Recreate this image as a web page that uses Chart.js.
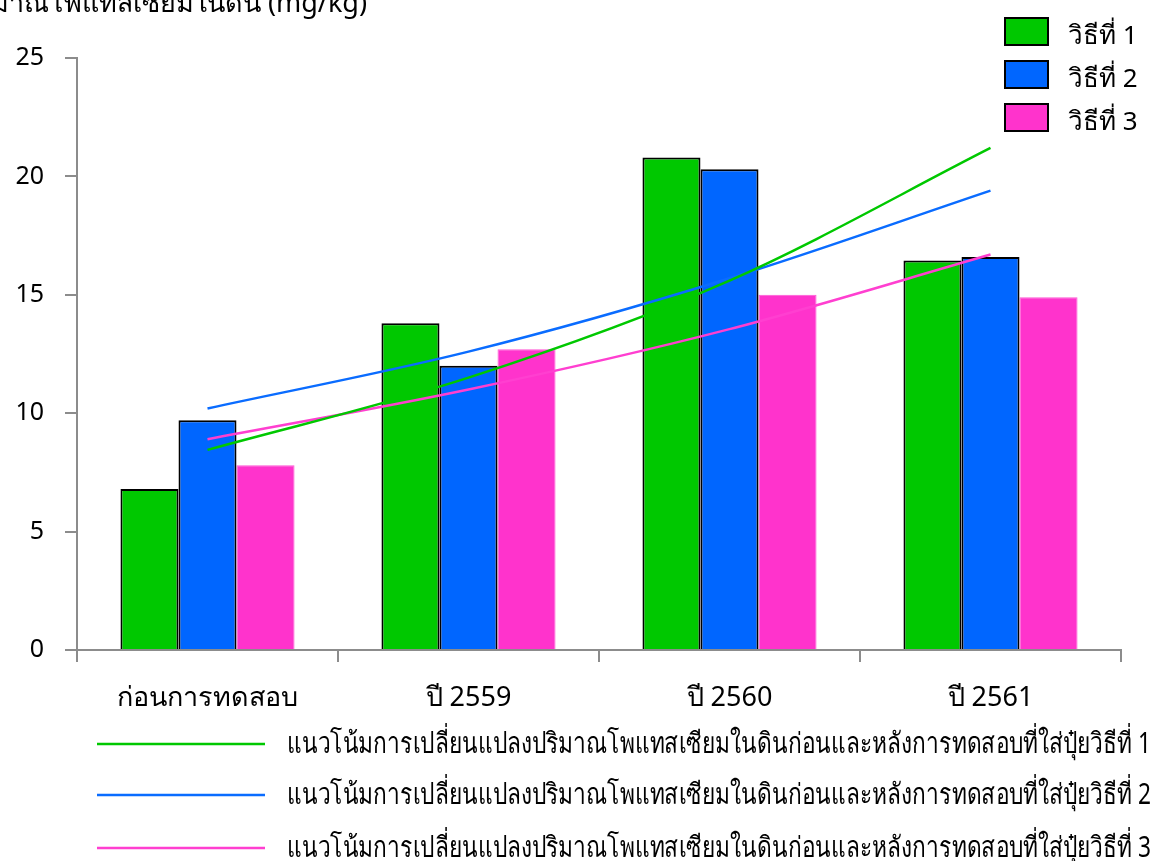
<!DOCTYPE html>
<html>
<head>
<meta charset="utf-8">
<script src="https://cdn.jsdelivr.net/npm/chart.js@4.4.1/dist/chart.umd.min.js"></script>
<style>
  html, body { margin: 0; padding: 0; background: #fff; }
  #wrap { position: relative; width: 1161px; height: 861px; }
</style>
</head>
<body>
<div id="wrap"><canvas id="potassium" width="1161" height="861"></canvas></div>
<script>
// ข้อมูลปริมาณโพแทสเซียมในดิน
const categories = ['ก่อนการทดสอบ', 'ปี 2559', 'ปี 2560', 'ปี 2561'];
const method1 = [6.8, 13.8, 20.8, 16.45];
const method2 = [9.7, 12.0, 20.3, 16.6];
const method3 = [7.8, 12.7, 15.0, 14.9];
// เส้นแนวโน้ม (ค่าที่จุดกึ่งกลางของแต่ละช่วง)
const trend1 = [8.45, 11.5, 15.6, 21.2];
const trend2 = [10.2, 12.6, 15.7, 19.4];
const trend3 = [8.9, 11.0, 13.55, 16.7];
const yTicks = [0, 5, 10, 15, 20, 25];
const methodNames = ['วิธีที่ 1', 'วิธีที่ 2', 'วิธีที่ 3'];
const trendName = 'แนวโน้มการเปลี่ยนแปลงปริมาณโพแทสเซียมในดินก่อนและหลังการทดสอบที่ใส่ปุ๋ยวิธีที่ ';
const yTitle = 'ปริมาณโพแทสเซียมในดิน (mg/kg)';

const barColors = ['#00c800', '#0066ff', '#ff33cc'];
const barBorders = ['#000000', '#000000', '#ff55d5'];
const lineColors = ['#00c800', '#0a6cff', '#ff3fd0'];
const FONT = '"Noto Sans", "DejaVu Sans", sans-serif';

const bars = [method1, method2, method3].map((vals, i) => ({
    type: 'bar',
    label: methodNames[i],
    data: vals,
    backgroundColor: barColors[i],
    borderColor: barBorders[i],
    borderWidth: i < 2 ? 2 : 1,
    categoryPercentage: 0.667,
    barPercentage: 1.0,
    order: 2
}));

const trends = [trend1, trend2, trend3].map((vals, i) => ({
    type: 'line',
    label: trendName + (i + 1),
    data: vals,
    borderColor: lineColors[i],
    borderWidth: 2.5,
    pointRadius: 0,
    fill: false,
    cubicInterpolationMode: 'monotone',
    order: 1
}));

// วาดชื่อแกน Y และคำอธิบายสัญลักษณ์เอง
const extras = {
    id: 'extras',
    afterDraw(chart) {
        const ctx = chart.ctx;
        ctx.save();
        ctx.fillStyle = '#000';
        ctx.textBaseline = 'alphabetic';

        // ชื่อแกน Y (ถูกตัดขอบด้านบน)
        ctx.font = '27px ' + FONT;
        ctx.textAlign = 'right';
        ctx.fillText(yTitle, 367, 12);

        // คำอธิบายแท่ง มุมขวาบน
        ctx.textAlign = 'left';
        ctx.font = '26px ' + FONT;
        methodNames.forEach((name, i) => {
            const y = 18 + i * 43;
            ctx.fillStyle = barColors[i];
            ctx.fillRect(1005, y, 43, 27);
            ctx.strokeStyle = '#000';
            ctx.lineWidth = 2;
            ctx.strokeRect(1005, y, 43, 27);
            ctx.fillStyle = '#000';
            ctx.fillText(name, 1068, y + 26);
        });

        // คำอธิบายเส้นแนวโน้ม ด้านล่าง (ตัวอักษรแบบบีบแคบ)
        ctx.font = '29px ' + FONT;
        trends.forEach((ds, i) => {
            const y = [744, 795, 848][i];
            ctx.strokeStyle = ds.borderColor;
            ctx.lineWidth = 2.5;
            ctx.beginPath();
            ctx.moveTo(97, y);
            ctx.lineTo(265, y);
            ctx.stroke();
            ctx.fillStyle = '#000';
            ctx.fillText(ds.label, 287, y + 9, 864);
        });
        ctx.restore();
    }
};

const ctxPotassium = document.getElementById('potassium').getContext('2d');
new Chart(ctxPotassium, {
    data: {
        labels: categories,
        datasets: [...trends, ...bars]
    },
    options: {
        responsive: false,
        animation: false,
        devicePixelRatio: 1,
        layout: { padding: { top: 58, right: 40, bottom: 151, left: 0 } },
        plugins: {
            legend: { display: false },
            tooltip: { enabled: false }
        },
        scales: {
            x: {
                offset: true,
                grid: {
                    drawOnChartArea: false,
                    offset: true,
                    color: '#8c8c8c',
                    lineWidth: 2,
                    tickLength: 12
                },
                border: { color: '#8c8c8c', width: 2 },
                ticks: {
                    color: '#000',
                    padding: 20,
                    font: { family: FONT, size: 27 }
                },
                afterFit(scale) { scale.height = 60; }
            },
            y: {
                min: 0,
                max: 25,
                afterBuildTicks(scale) { scale.ticks = yTicks.map(v => ({ value: v })); },
                grid: {
                    drawOnChartArea: false,
                    color: '#8c8c8c',
                    lineWidth: 2,
                    tickLength: 12
                },
                border: { color: '#8c8c8c', width: 2 },
                ticks: {
                    color: '#000',
                    padding: 21,
                    font: { family: FONT, size: 25 }
                },
                afterFit(scale) { scale.width = 77; }
            }
        }
    },
    plugins: [extras]
});
</script>
</body>
</html>
